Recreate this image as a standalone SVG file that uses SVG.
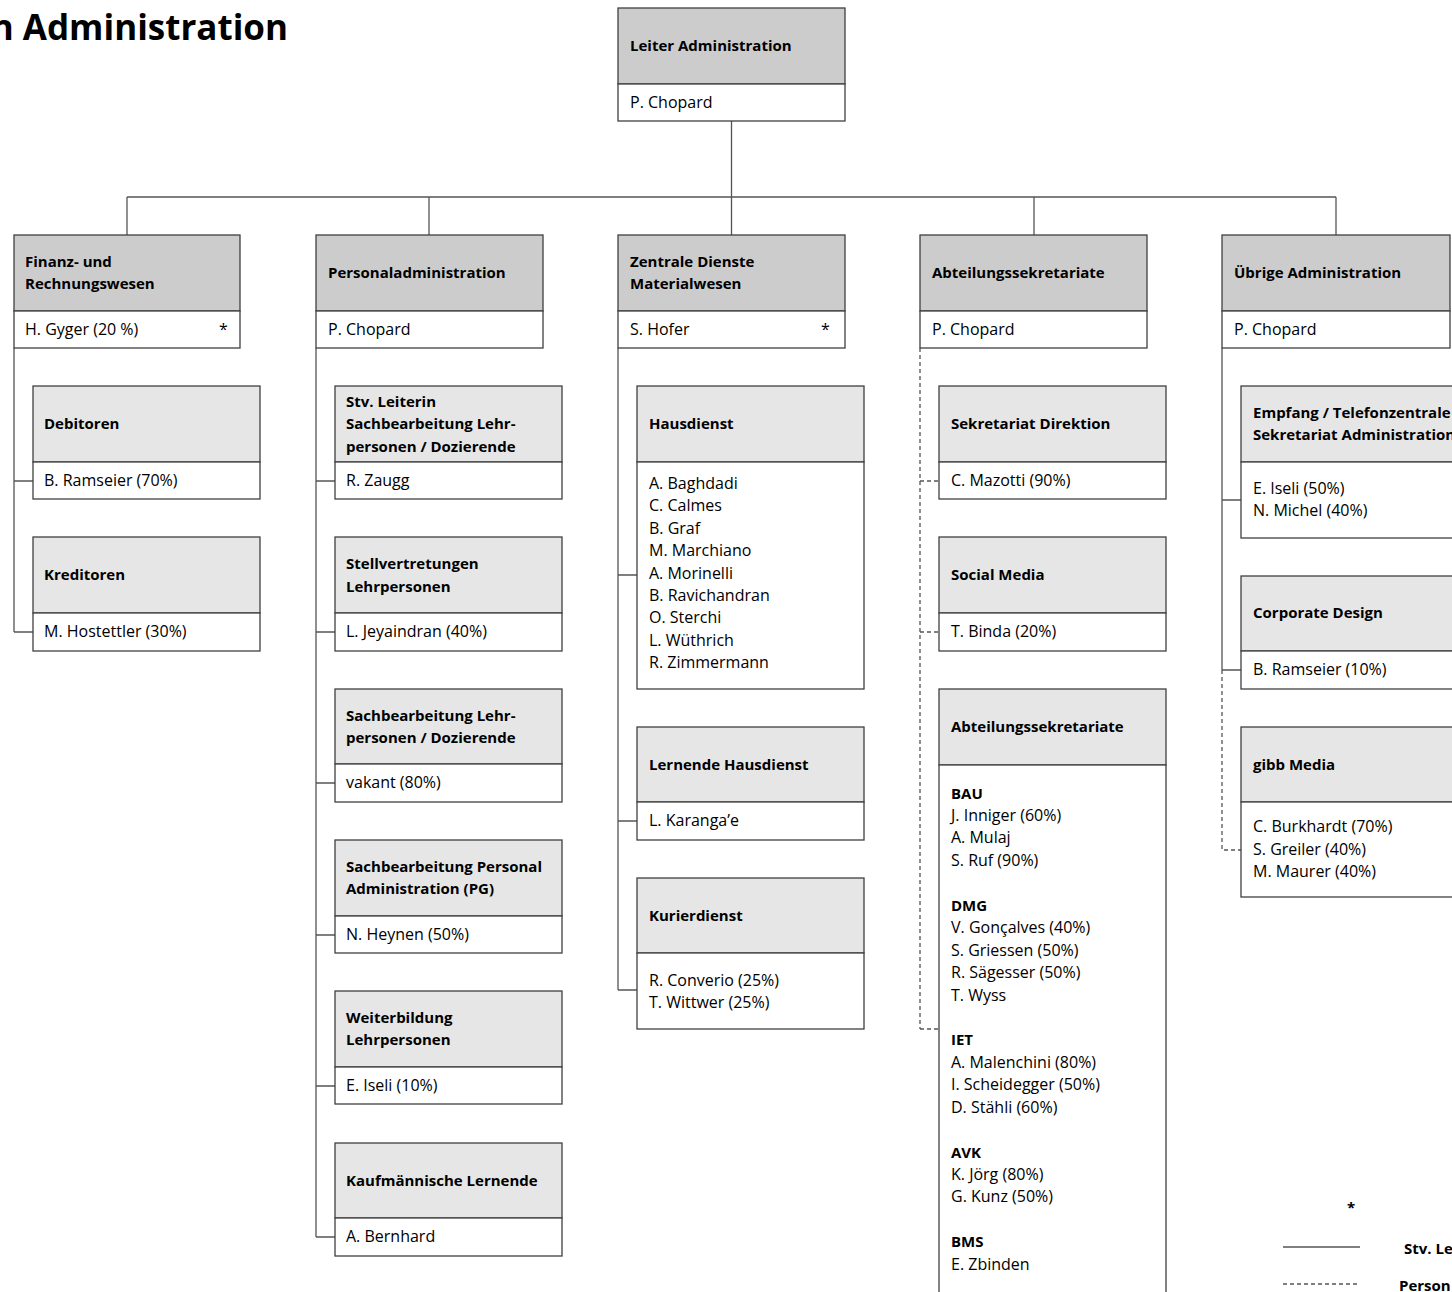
<svg xmlns="http://www.w3.org/2000/svg" width="1452" height="1292" viewBox="0 0 1452 1292">
<style>
rect{stroke:#404040;stroke-width:1.3}
.h1{fill:#CCCCCC}
.h2{fill:#E6E6E6}
.b{fill:#FFFFFF}
text{font-family:"Open Sans","Noto Sans","Liberation Sans",sans-serif;font-size:16px;fill:#000}
.bo{font-weight:bold;font-size:15px}
.c line,.c path{stroke:#555;stroke-width:1.3;fill:none}
.c .d{stroke-dasharray:4 3}
</style>
<rect x="0" y="0" width="1452" height="1292" fill="#fff" style="stroke:none"/>
<text x="288" y="40" text-anchor="end" class="bo" style="font-size:35px">n Administration</text>

<g class="c" id="connectors">
<line x1="731.5" y1="121" x2="731.5" y2="197"/>
<line x1="127" y1="197" x2="1336" y2="197"/>
<line x1="127" y1="197" x2="127" y2="235"/>
<line x1="429" y1="197" x2="429" y2="235"/>
<line x1="731.5" y1="197" x2="731.5" y2="235"/>
<line x1="1034" y1="197" x2="1034" y2="235"/>
<line x1="1336" y1="197" x2="1336" y2="235"/>
<path d="M14 348V632M14 481H33M14 632H33"/>
<path d="M316 348V1237M316 481H335M316 632H335M316 783H335M316 935H335M316 1086H335M316 1237H335"/>
<path d="M618 348V990M618 575H637M618 821H637M618 990H637"/>
<path class="d" d="M920 348V1029M920 481H939M920 632H939M920 1029H939"/>
<path d="M1222 348V670M1222 500H1241M1222 670H1241"/>
<path class="d" d="M1222 670V850H1241"/>
<line x1="1283" y1="1247" x2="1360" y2="1247"/>
<line class="d" x1="1283" y1="1284" x2="1360" y2="1284"/>
</g>

<g id="n-leiter">
<rect class="h1" x="618" y="8" width="227" height="76"/>
<rect class="b" x="618" y="84" width="227" height="37"/>
<text x="630" y="51" class="bo">Leiter Administration</text>
<text x="630" y="108">P. Chopard</text>
</g>

<g id="n-finanz">
<rect class="h1" x="14" y="235" width="226" height="76"/>
<rect class="b" x="14" y="311" width="226" height="37"/>
<text x="25" y="267" class="bo">Finanz- und</text>
<text x="25" y="289" class="bo">Rechnungswesen</text>
<text x="25" y="335">H. Gyger (20 %)</text>
<text x="219" y="335">*</text>
</g>

<g id="n-personal">
<rect class="h1" x="316" y="235" width="227" height="76"/>
<rect class="b" x="316" y="311" width="227" height="37"/>
<text x="328" y="278" class="bo">Personaladministration</text>
<text x="328" y="335">P. Chopard</text>
</g>

<g id="n-zentrale">
<rect class="h1" x="618" y="235" width="227" height="76"/>
<rect class="b" x="618" y="311" width="227" height="37"/>
<text x="630" y="267" class="bo">Zentrale Dienste</text>
<text x="630" y="289" class="bo">Materialwesen</text>
<text x="630" y="335">S. Hofer</text>
<text x="821" y="335">*</text>
</g>

<g id="n-abteilung">
<rect class="h1" x="920" y="235" width="227" height="76"/>
<rect class="b" x="920" y="311" width="227" height="37"/>
<text x="932" y="278" class="bo">Abteilungssekretariate</text>
<text x="932" y="335">P. Chopard</text>
</g>

<g id="n-uebrige">
<rect class="h1" x="1222" y="235" width="228" height="76"/>
<rect class="b" x="1222" y="311" width="228" height="37"/>
<text x="1234" y="278" class="bo">Übrige Administration</text>
<text x="1234" y="335">P. Chopard</text>
</g>

<g id="n-debitoren">
<rect class="h2" x="33" y="386" width="227" height="76"/>
<rect class="b" x="33" y="462" width="227" height="37"/>
<text x="44" y="429" class="bo">Debitoren</text>
<text x="44" y="486">B. Ramseier (70%)</text>
</g>

<g id="n-kreditoren">
<rect class="h2" x="33" y="537" width="227" height="76"/>
<rect class="b" x="33" y="613" width="227" height="38"/>
<text x="44" y="580" class="bo">Kreditoren</text>
<text x="44" y="637">M. Hostettler (30%)</text>
</g>

<g id="n-stv-leiterin">
<rect class="h2" x="335" y="386" width="227" height="76"/>
<rect class="b" x="335" y="462" width="227" height="37"/>
<text x="346" y="407" class="bo">Stv. Leiterin</text>
<text x="346" y="429" class="bo">Sachbearbeitung Lehr-</text>
<text x="346" y="452" class="bo">personen / Dozierende</text>
<text x="346" y="486">R. Zaugg</text>
</g>

<g id="n-stellvertretungen">
<rect class="h2" x="335" y="537" width="227" height="76"/>
<rect class="b" x="335" y="613" width="227" height="38"/>
<text x="346" y="569" class="bo">Stellvertretungen</text>
<text x="346" y="592" class="bo">Lehrpersonen</text>
<text x="346" y="637">L. Jeyaindran (40%)</text>
</g>

<g id="n-sachbearbeitung">
<rect class="h2" x="335" y="689" width="227" height="75"/>
<rect class="b" x="335" y="764" width="227" height="38"/>
<text x="346" y="721" class="bo">Sachbearbeitung Lehr-</text>
<text x="346" y="743" class="bo">personen / Dozierende</text>
<text x="346" y="788">vakant (80%)</text>
</g>

<g id="n-sachbearbeitung-personal">
<rect class="h2" x="335" y="840" width="227" height="76"/>
<rect class="b" x="335" y="916" width="227" height="37"/>
<text x="346" y="872" class="bo">Sachbearbeitung Personal</text>
<text x="346" y="894" class="bo">Administration (PG)</text>
<text x="346" y="940">N. Heynen (50%)</text>
</g>

<g id="n-weiterbildung">
<rect class="h2" x="335" y="991" width="227" height="76"/>
<rect class="b" x="335" y="1067" width="227" height="37"/>
<text x="346" y="1023" class="bo">Weiterbildung</text>
<text x="346" y="1045" class="bo">Lehrpersonen</text>
<text x="346" y="1091">E. Iseli (10%)</text>
</g>

<g id="n-kaufmaennische">
<rect class="h2" x="335" y="1143" width="227" height="75"/>
<rect class="b" x="335" y="1218" width="227" height="38"/>
<text x="346" y="1186" class="bo">Kaufmännische Lernende</text>
<text x="346" y="1242">A. Bernhard</text>
</g>

<g id="n-hausdienst">
<rect class="h2" x="637" y="386" width="227" height="76"/>
<rect class="b" x="637" y="462" width="227" height="227"/>
<text x="649" y="429" class="bo">Hausdienst</text>
<text x="649" y="489">A. Baghdadi</text>
<text x="649" y="511">C. Calmes</text>
<text x="649" y="534">B. Graf</text>
<text x="649" y="556">M. Marchiano</text>
<text x="649" y="579">A. Morinelli</text>
<text x="649" y="601">B. Ravichandran</text>
<text x="649" y="623">O. Sterchi</text>
<text x="649" y="646">L. Wüthrich</text>
<text x="649" y="668">R. Zimmermann</text>
</g>

<g id="n-lernende-hausdienst">
<rect class="h2" x="637" y="727" width="227" height="75"/>
<rect class="b" x="637" y="802" width="227" height="38"/>
<text x="649" y="770" class="bo">Lernende Hausdienst</text>
<text x="649" y="826">L. Karanga’e</text>
</g>

<g id="n-kurierdienst">
<rect class="h2" x="637" y="878" width="227" height="75"/>
<rect class="b" x="637" y="953" width="227" height="76"/>
<text x="649" y="921" class="bo">Kurierdienst</text>
<text x="649" y="986">R. Converio (25%)</text>
<text x="649" y="1008">T. Wittwer (25%)</text>
</g>

<g id="n-sekretariat-direktion">
<rect class="h2" x="939" y="386" width="227" height="76"/>
<rect class="b" x="939" y="462" width="227" height="37"/>
<text x="951" y="429" class="bo">Sekretariat Direktion</text>
<text x="951" y="486">C. Mazotti (90%)</text>
</g>

<g id="n-social-media">
<rect class="h2" x="939" y="537" width="227" height="76"/>
<rect class="b" x="939" y="613" width="227" height="38"/>
<text x="951" y="580" class="bo">Social Media</text>
<text x="951" y="637">T. Binda (20%)</text>
</g>

<g id="n-abteilungssekretariate">
<rect class="h2" x="939" y="689" width="227" height="76"/>
<rect class="b" x="939" y="765" width="227" height="540"/>
<text x="951" y="732" class="bo">Abteilungssekretariate</text>
<text x="951" y="799" class="bo">BAU</text>
<text x="951" y="821">J. Inniger (60%)</text>
<text x="951" y="843">A. Mulaj</text>
<text x="951" y="866">S. Ruf (90%)</text>
<text x="951" y="911" class="bo">DMG</text>
<text x="951" y="933">V. Gonçalves (40%)</text>
<text x="951" y="956">S. Griessen (50%)</text>
<text x="951" y="978">R. Sägesser (50%)</text>
<text x="951" y="1001">T. Wyss</text>
<text x="951" y="1045" class="bo">IET</text>
<text x="951" y="1068">A. Malenchini (80%)</text>
<text x="951" y="1090">I. Scheidegger (50%)</text>
<text x="951" y="1113">D. Stähli (60%)</text>
<text x="951" y="1158" class="bo">AVK</text>
<text x="951" y="1180">K. Jörg (80%)</text>
<text x="951" y="1202">G. Kunz (50%)</text>
<text x="951" y="1247" class="bo">BMS</text>
<text x="951" y="1270">E. Zbinden</text>
</g>

<g id="n-empfang">
<rect class="h2" x="1241" y="386" width="227" height="76"/>
<rect class="b" x="1241" y="462" width="227" height="76"/>
<text x="1253" y="418" class="bo">Empfang / Telefonzentrale</text>
<text x="1253" y="440" class="bo">Sekretariat Administration</text>
<text x="1253" y="494">E. Iseli (50%)</text>
<text x="1253" y="516">N. Michel (40%)</text>
</g>

<g id="n-corporate-design">
<rect class="h2" x="1241" y="576" width="227" height="75"/>
<rect class="b" x="1241" y="651" width="227" height="38"/>
<text x="1253" y="618" class="bo">Corporate Design</text>
<text x="1253" y="675">B. Ramseier (10%)</text>
</g>

<g id="n-gibb-media">
<rect class="h2" x="1241" y="727" width="227" height="75"/>
<rect class="b" x="1241" y="802" width="227" height="95"/>
<text x="1253" y="770" class="bo">gibb Media</text>
<text x="1253" y="832">C. Burkhardt (70%)</text>
<text x="1253" y="855">S. Greiler (40%)</text>
<text x="1253" y="877">M. Maurer (40%)</text>
</g>

<g id="legend">
<text x="1347" y="1213" class="bo">*</text>
<text x="1404" y="1254" class="bo">Stv. Le</text>
<text x="1399" y="1291" class="bo">Person</text>
</g>
</svg>
